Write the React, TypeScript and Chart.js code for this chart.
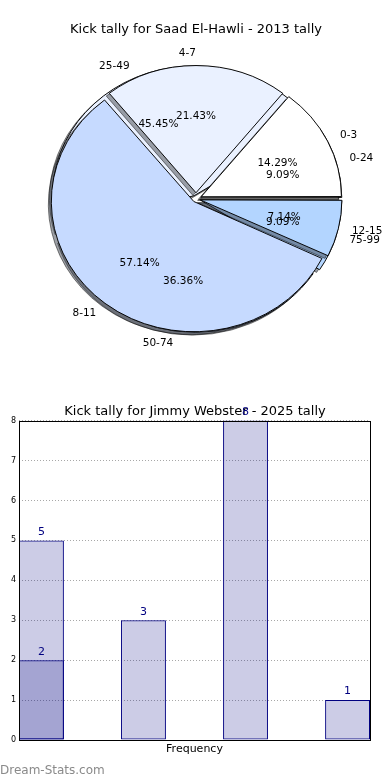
import React, { useEffect, useRef } from "react";
import { Chart, registerables } from "chart.js";

Chart.register(...registerables);
Chart.defaults.font.family = "'DejaVu Sans', sans-serif";

// ---------- data ----------
const pieTitle = "Kick tally for Saad El-Hawli - 2013 tally";
const pieCategoriesA = ["0-3", "4-7", "8-11", "12-15"];
const pieValuesA = [2, 3, 8, 1];
const pieCategoriesB = ["0-24", "25-49", "50-74", "75-99"];
const pieValuesB = [1, 5, 4, 1];
const pieColors = ["#ffffff", "#eaf1ff", "#c6daff", "#b3d5ff"];

const barTitle = "Kick tally for Jimmy Webster - 2025 tally";
const barPositions = [0, 1, 2, 3];
const barValuesA = [5, 3, 8, 1];
const barValuesB = [2, null, null, null];
const yMin = 0;
const yMax = 8;
const xLabel = "Frequency";
const watermark = "Dream-Stats.com";

// ---------- styling constants ----------
const RADIUS = 139;
const EXPLODE = 7;
const YSCALE = 0.914;
const PIE_FONT = 10.5;

function explodeOffsets(values: number[]) {
  const total = values.reduce((a, b) => a + b, 0);
  return values.map((v) => {
    const c = (2 * Math.PI * v) / total;
    const fix = 1 - Math.sin(Math.min(Math.PI, c));
    return (EXPLODE * 4) / (1 + fix);
  });
}

const ellipsePlugin = {
  id: "ellipse",
  beforeDatasetsDraw(chart: any) {
    const meta = chart.getDatasetMeta(0);
    const first = meta.data[0];
    const ctx = chart.ctx;
    const cx = first.x;
    const cy = first.y;
    ctx.save();
    ctx.translate(cx, cy);
    ctx.scale(1, YSCALE);
    ctx.translate(-cx, -cy);
    // shadow under wedges
    ctx.save();
    ctx.translate(-3, 3);
    ctx.filter = "brightness(0.3) opacity(0.5)";
    meta.data.forEach((a: any) => a.draw(ctx));
    ctx.restore();
  },
  afterDatasetsDraw(chart: any) {
    chart.ctx.restore();
  },
};

function drawPieLabels(chart: any, ctx: CanvasRenderingContext2D) {
  const meta = chart.getDatasetMeta(0);
  const labels = chart.data.labels as string[];
  const values = chart.data.datasets[0].data as number[];
  const total = values.reduce((a, b) => a + b, 0);
  ctx.save();
  ctx.fillStyle = "#000";
  ctx.font = `${PIE_FONT}px 'DejaVu Sans', sans-serif`;
  ctx.textBaseline = "middle";
  meta.data.forEach((arc: any, i: number) => {
    const { x, y, startAngle, endAngle, outerRadius } = arc.getProps(
      ["x", "y", "startAngle", "endAngle", "outerRadius"],
      true
    );
    const h = (startAngle + endAngle) / 2;
    const c = Math.cos(h);
    const s = Math.sin(h);
    const d1 = outerRadius * 1.1 + EXPLODE;
    ctx.textAlign = c > 1e-6 ? "left" : "right";
    ctx.fillText(labels[i], x + d1 * c, y + d1 * s * YSCALE);
    const d2 = outerRadius * 0.6 + EXPLODE;
    ctx.textAlign = "center";
    ctx.fillText(((values[i] / total) * 100).toFixed(2) + "%", x + d2 * c, y + d2 * s * YSCALE);
  });
  ctx.restore();
}

function pieConfig(categories: string[], values: number[], titleColor: string, extra: any[]) {
  // Chart.js draws clockwise from the start angle; reverse to mimic counter-clockwise order from east
  const labels = [...categories].reverse();
  const data = [...values].reverse();
  const colors = [...pieColors].reverse();
  return {
    type: "pie" as const,
    data: {
      labels,
      datasets: [
        {
          data,
          backgroundColor: colors,
          borderColor: "#000",
          borderWidth: 1,
          offset: explodeOffsets(data),
          radius: RADIUS,
          clip: false as any,
        },
      ],
    },
    options: {
      animation: false as const,
      responsive: false,
      rotation: 90,
      layout: { padding: { left: 4, right: 2, top: 0, bottom: 9.6 } },
      plugins: {
        legend: { display: false },
        tooltip: { enabled: false },
        title: {
          display: true,
          text: pieTitle,
          color: titleColor,
          font: { size: 13, weight: "normal" as const },
          padding: { top: 22, bottom: 0 },
        },
      },
    },
    plugins: [ellipsePlugin, ...extra],
  };
}

export default function App() {
  const pieBackRef = useRef<HTMLCanvasElement>(null);
  const pieFrontRef = useRef<HTMLCanvasElement>(null);
  const barRef = useRef<HTMLCanvasElement>(null);

  useEffect(() => {
    const back = new Chart(pieBackRef.current!, pieConfig(pieCategoriesB, pieValuesB, "rgba(0,0,0,0)", []) as any);
    const labelsPlugin = {
      id: "pieLabels",
      afterDraw(chart: any) {
        drawPieLabels(back, chart.ctx);
        drawPieLabels(chart, chart.ctx);
      },
    };
    const front = new Chart(pieFrontRef.current!, pieConfig(pieCategoriesA, pieValuesA, "#000", [labelsPlugin]) as any);

    const boxPlugin = {
      id: "box",
      afterDatasetsDraw(chart: any) {
        const ctx = chart.ctx;
        ctx.save();
        ctx.fillStyle = "navy";
        ctx.font = "11px 'DejaVu Sans', sans-serif";
        ctx.textAlign = "center";
        ctx.textBaseline = "bottom";
        chart.data.datasets.forEach((ds: any, di: number) => {
          const meta = chart.getDatasetMeta(di);
          meta.data.forEach((bar: any, i: number) => {
            const v = ds.data[i].y;
            ctx.fillText(String(v), bar.x, bar.y - 3);
          });
        });
        ctx.restore();
      },
      afterDraw(chart: any) {
        const { left, top, right, bottom } = chart.chartArea;
        const ctx = chart.ctx;
        ctx.save();
        ctx.strokeStyle = "#000";
        ctx.lineWidth = 1;
        ctx.strokeRect(Math.round(left) + 0.5, Math.round(top) + 0.5, Math.round(right - left), Math.round(bottom - top));
        ctx.restore();
      },
    };

    const mk = (vals: (number | null)[]) =>
      barPositions
        .map((x, i) => ({ x, y: vals[i] }))
        .filter((p) => p.y !== null);

    const barStyle = {
      backgroundColor: "rgba(0,0,128,0.2)",
      borderColor: "navy",
      borderWidth: 1,
      borderSkipped: false,
      grouped: false,
      barPercentage: 0.44,
      categoryPercentage: 1,
    };

    const bar = new Chart(barRef.current!, {
      type: "bar",
      data: {
        datasets: [
          { data: mk(barValuesA), ...barStyle },
          { data: mk(barValuesB), ...barStyle },
        ] as any,
      },
      options: {
        animation: false,
        responsive: false,
        layout: { padding: 0 },
        plugins: {
          legend: { display: false },
          tooltip: { enabled: false },
          title: {
            display: true,
            text: barTitle,
            color: "#000",
            font: { size: 13, weight: "normal" },
            padding: { top: 15, bottom: 1 },
          },
        },
        scales: {
          x: {
            type: "linear",
            min: -0.22,
            max: 3.22,
            offset: false,
            grid: { display: false, offset: false },
            ticks: { display: false, stepSize: 1, includeBounds: false },
            border: { display: false },
            title: {
              display: true,
              text: xLabel,
              color: "#000",
              font: { size: 11 },
              padding: { top: 0, bottom: 24 },
            },
            afterFit: (s: any) => {
              s.height = 40;
            },
          },
          y: {
            min: yMin,
            max: yMax,
            ticks: { stepSize: 1, color: "#000", font: { size: 8 }, padding: 3 },
            grid: { color: "#a8a8a8", drawTicks: false },
            border: { display: false, dash: [1, 2] },
            afterFit: (s: any) => {
              s.width = 19;
            },
          },
          y2: {
            position: "right",
            min: yMin,
            max: yMax,
            ticks: { display: false },
            grid: { display: false },
            border: { display: false },
            afterFit: (s: any) => {
              s.width = 20;
            },
          },
        },
      } as any,
      plugins: [boxPlugin],
    });

    return () => {
      front.destroy();
      back.destroy();
      bar.destroy();
    };
  }, []);

  return (
    <div style={{ position: "absolute", left: 0, top: 0, width: 390, height: 780, background: "#fff", overflow: "hidden" }}>
      <canvas ref={pieBackRef} width={390} height={370} style={{ position: "absolute", left: 0, top: 0 }} />
      <canvas ref={pieFrontRef} width={390} height={370} style={{ position: "absolute", left: 0, top: 0 }} />
      <canvas ref={barRef} width={390} height={391} style={{ position: "absolute", left: 0, top: 389 }} />
      <div
        style={{
          position: "absolute",
          left: 0,
          top: 762,
          fontFamily: "'DejaVu Sans', sans-serif",
          fontSize: 12,
          fontWeight: "normal",
          color: "#8a8a8a",
          lineHeight: "16px",
          whiteSpace: "nowrap",
        }}
      >
        {watermark}
      </div>
    </div>
  );
}
